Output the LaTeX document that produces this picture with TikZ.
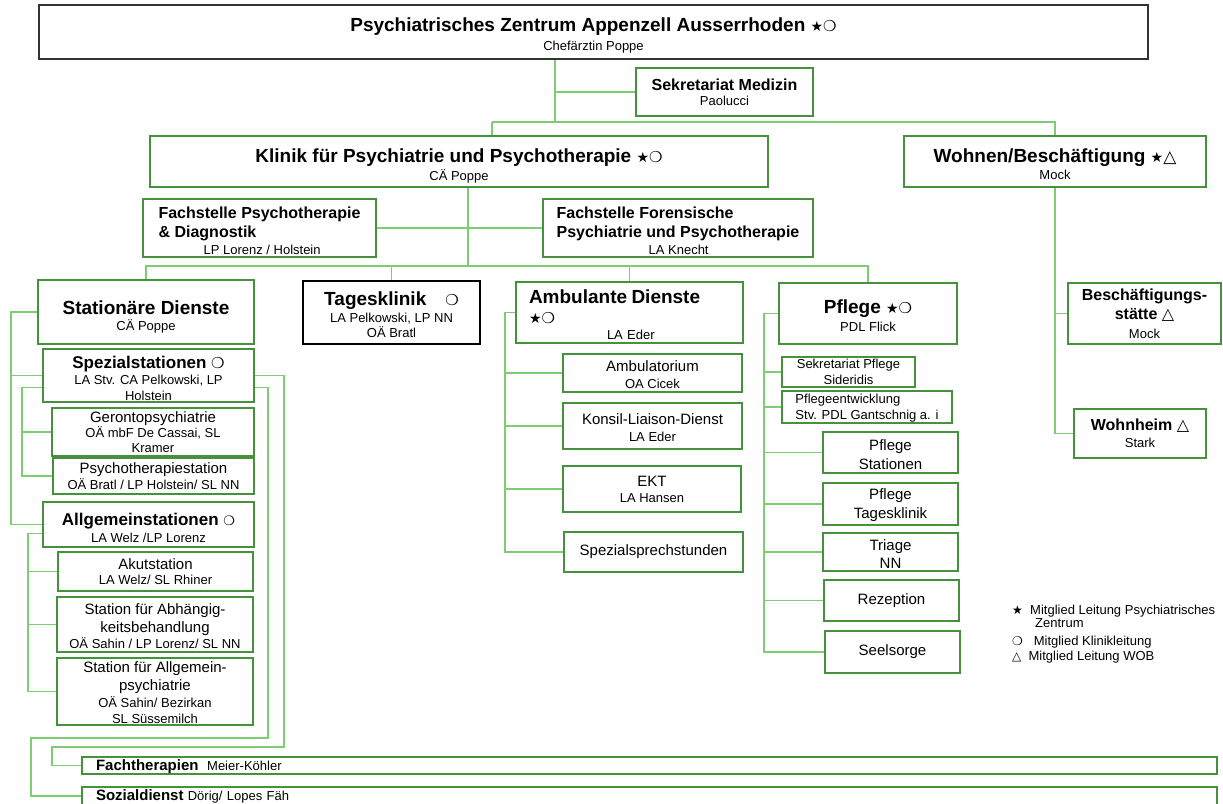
\documentclass[tikz,border=0pt]{standalone}
\usepackage{fontspec}
\setmainfont{Liberation Sans}
\newfontfamily\symf{DejaVu Sans}
\definecolor{boxgreen}{RGB}{70,145,60}
\definecolor{linegreen}{RGB}{125,205,115}
\newcommand\ftitle{\fontsize{19}{21}\selectfont\bfseries}
\newcommand\fsubh{\fontsize{17}{19}\selectfont\bfseries}
\newcommand\fhead{\fontsize{16}{18}\selectfont\bfseries}
\newcommand\funit{\fontsize{15}{17}\selectfont}
\newcommand\fname{\fontsize{13}{15}\selectfont}
\newcommand\sy[2]{{\symf\fontsize{#1}{#1}\selectfont #2}}
\newcommand\lift[1]{\rule{0pt}{#1pt}}

\begin{document}
\begin{tikzpicture}[x=1pt,y=-1pt,
  box/.style={draw=boxgreen, line width=2pt, fill=white, inner sep=0pt, align=center, font=\fname},
  blackbox/.style={box, draw=black},
  conn/.style={draw=linegreen, line width=1.3pt}]
\useasboundingbox (0,0) rectangle (1223,803);

\node[box, draw=black!80, line width=1.2pt, minimum width=1109pt, minimum height=54pt] (pza) at (593.5,32)
  {\lift{20}{\ftitle Psychiatrisches Zentrum Appenzell Ausserrhoden \sy{14}{★}\sy{15}{❍}}\\[4pt] Chefärztin Poppe};
\node[box, minimum width=177pt, minimum height=48pt] (sekmed) at (724.5,92)
  {{\fhead Sekretariat Medizin}\\ Paolucci};
\node[box, minimum width=618pt, minimum height=51pt] (klinik) at (459,161.5)
  {\lift{22}{\ftitle Klinik für Psychiatrie und Psychotherapie \sy{14}{★}\sy{15}{❍}}\\[3pt] CÄ Poppe};
\node[box, minimum width=302pt, minimum height=51pt] (wohnen) at (1055,161.5)
  {\lift{19}{\ftitle Wohnen/Beschäftigung \sy{14}{★}\sy{17}{△}}\\[2pt] Mock};

\node[box, align=left, minimum width=233pt, minimum height=58pt] (fpsy) at (259.5,228)
  {\lift{18}{\fhead Fachstelle Psychotherapie}\\[4pt] {\fhead \& Diagnostik}\\[2pt] \hspace*{45pt}LP Lorenz / Holstein};
\node[box, align=left, minimum width=270pt, minimum height=58pt] (fforen) at (678,228)
  {\lift{18}{\fhead Fachstelle Forensische}\\[4pt] {\fhead Psychiatrie und Psychotherapie}\\[2pt] \hspace*{92pt}LA Knecht};

\node[box, minimum width=216pt, minimum height=64pt] (stat) at (146,312)
  {\lift{24}{\ftitle Stationäre Dienste}\\[1pt] CÄ Poppe};
\node[blackbox, minimum width=177pt, minimum height=63pt] (tages) at (391.5,312.5)
  {\lift{18}{\ftitle Tagesklinik\quad\sy{15}{❍}}\\[2pt] LA Pelkowski, LP NN\\ OÄ Bratl};
\node[box, align=left, text width=201pt, inner xsep=13pt, minimum width=227pt, minimum height=61pt] (amb) at (629.5,312.5)
  {\lift{18}{\ftitle Ambulante Dienste}\\[5pt] \sy{14}{★}\sy{15}{❍}\\[1pt] \hspace*{78pt}LA Eder};
\node[box, minimum width=178pt, minimum height=61pt] (pflege) at (868,313.5)
  {\lift{18}{\ftitle Pflege \sy{14}{★}\sy{15}{❍}}\\[3pt] PDL Flick};
\node[box, minimum width=153pt, minimum height=61pt] (besch) at (1144.5,313.5)
  {{\fhead Beschäftigungs-}\\[4pt] {\fhead stätte \sy{16}{△}}\\[4pt] Mock};
\node[box, minimum width=132pt, minimum height=49pt] (wohnheim) at (1140,433.5)
  {{\fhead Wohnheim \sy{16}{△}}\\[2pt] Stark};

\node[box, minimum width=211pt, minimum height=53pt] (spez) at (148.5,375.5)
  {\lift{18}{\fsubh Spezialstationen \sy{15}{❍}}\\[1pt] LA Stv. CA Pelkowski, LP\\[1pt] Holstein};
\node[box, minimum width=202pt, minimum height=48pt] (geronto) at (153,432)
  {{\funit Gerontopsychiatrie}\\ OÄ mbF De Cassai, SL\\ Kramer};
\node[box, minimum width=201pt, minimum height=36pt] (psyst) at (153.5,476)
  {{\funit Psychotherapiestation}\\[1pt] OÄ Bratl / LP Holstein/ SL NN};
\node[box, minimum width=211pt, minimum height=45pt] (allg) at (148.5,524.5)
  {\lift{19}{\fsubh Allgemeinstationen \sy{13}{❍}}\\[2pt] LA Welz /LP Lorenz};
\node[box, minimum width=195pt, minimum height=39pt] (akut) at (155.5,571.5)
  {{\funit Akutstation}\\ LA Welz/ SL Rhiner};
\node[box, minimum width=196pt, minimum height=55pt] (abh) at (155,624.5)
  {\lift{15}{\funit Station für Abhängig-}\\[3pt] {\funit keitsbehandlung}\\[1pt] OÄ Sahin / LP Lorenz/ SL NN};
\node[box, minimum width=196pt, minimum height=67pt] (allgpsy) at (155,691.5)
  {\lift{14}{\funit Station für Allgemein-}\\[3pt] {\funit psychiatrie}\\[2pt] OÄ Sahin/ Bezirkan\\[1pt] SL Süssemilch};

\node[box, minimum width=179pt, minimum height=38pt] (ambul) at (652.5,373)
  {\lift{15}{\funit Ambulatorium}\\[2pt] OA Cicek};
\node[box, minimum width=179pt, minimum height=46pt] (konsil) at (652.5,426)
  {\lift{15}{\funit Konsil-Liaison-Dienst}\\[2pt] LA Eder};
\node[box, minimum width=178pt, minimum height=46pt] (ekt) at (652,489)
  {{\funit EKT}\\[1pt] LA Hansen};
\node[box, font=\funit, minimum width=179pt, minimum height=40pt] (spsp) at (653.5,552)
  {Spezialsprechstunden};

\node[box, minimum width=133pt, minimum height=30pt] (sekpf) at (848.5,372)
  {Sekretariat Pflege\\[1pt] Sideridis};
\node[box, align=left, minimum width=170pt, minimum height=32pt] (pfent) at (867,407)
  {\lift{12}Pflegeentwicklung\\[1pt] Stv. PDL Gantschnig a. i};
\node[box, font=\funit, minimum width=135pt, minimum height=41pt] (pfstat) at (890.5,452.5)
  {\lift{15}Pflege\\[2pt] Stationen};
\node[box, font=\funit, minimum width=135pt, minimum height=42pt] (pftag) at (890.5,504)
  {\lift{14}Pflege\\[2pt] Tagesklinik};
\node[box, font=\funit, minimum width=135pt, minimum height=38pt] (triage) at (890.5,552)
  {\lift{14}Triage\\[1pt] NN};
\node[box, font=\funit, minimum width=135pt, minimum height=41pt] (rezep) at (891.5,600.5)
  {Rezeption};
\node[box, font=\funit, minimum width=135pt, minimum height=42pt] (seel) at (892.5,652)
  {Seelsorge};

\node[box, align=left, text width=1107pt, inner xsep=14pt, text depth=0pt, minimum width=1135pt, minimum height=17pt] (fachth) at (649.5,765.5)
  {{\funit\bfseries Fachtherapien}\ \ Meier-Köhler};
\node[box, align=left, text width=1107pt, inner xsep=14pt, minimum width=1135pt, minimum height=18pt] (sozial) at (649.5,796)
  {{\funit\bfseries Sozialdienst} Dörig/ Lopes Fäh};

\node[anchor=north west, align=left, font=\fname, inner sep=0pt] (legend) at (1012,605)
  {\sy{12}{★}\ \ Mitglied Leitung Psychiatrisches\\[-2pt] \hspace*{23pt}Zentrum\\[3pt]
   \sy{12}{❍}\ \ \ Mitglied Klinikleitung\\ \sy{12}{△}\ \ Mitglied Leitung WOB};

\coordinate (t1) at (555,122);
\coordinate (t2) at (492,122);
\draw[conn] (pza.south -| t1) -- (t1);
\draw[conn] (pza.south -| t1) |- (sekmed.west);
\draw[conn] (t2) -- (wohnen.north |- t2) -- (wohnen.north);
\draw[conn] (t2) -- (klinik.north -| t2);

\coordinate (k1) at (468,266);
\draw[conn] (klinik.south -| k1) -- (k1);
\draw[conn] (fpsy.east) -- (fforen.west);
\draw[conn] (stat.north) -- (stat.north |- k1) -- (pflege.north |- k1) -- (pflege.north);
\draw[conn] (tages.north |- k1) -- (tages.north);
\draw[conn] (amb.north |- k1) -- (amb.north);

\draw[conn] (wohnen.south) |- (wohnheim.west);
\draw[conn] (besch.west -| wohnen.south) -- (besch.west);

\draw[conn] (stat.west) -- ++(-26,0) coordinate (s1) |- (allg.west);
\draw[conn] (s1 |- spez.west) -- (spez.west);
\draw[conn] ([yshift=-12pt]spez.west) -- ++(-20,0) coordinate (s2) |- (psyst.west);
\draw[conn] (s2 |- geronto.west) -- (geronto.west);
\draw[conn] ([yshift=-9pt]allg.west) -- ++(-14,0) coordinate (s3) |- (allgpsy.west);
\draw[conn] (s3 |- akut.west) -- (akut.west);
\draw[conn] (s3 |- abh.west) -- (abh.west);

\draw[conn] (spez.east) -- ++(29,0) -- ++(0,371.5) -| ([xshift=-29pt]fachth.west) -- (fachth.west);
\draw[conn] ([yshift=-12pt]spez.east) -- ++(13,0) -- ++(0,350.5) -| ([xshift=-50pt]sozial.west) -- (sozial.west);

\draw[conn] (amb.west) -- ++(-10,0) coordinate (s4) |- (spsp.west);
\draw[conn] (s4 |- ambul.west) -- (ambul.west);
\draw[conn] (s4 |- konsil.west) -- (konsil.west);
\draw[conn] (s4 |- ekt.west) -- (ekt.west);

\draw[conn] (pflege.west) -- ++(-14,0) coordinate (s5) |- (seel.west);
\draw[conn] (s5 |- sekpf.west) -- (sekpf.west);
\draw[conn] (s5 |- pfent.west) -- (pfent.west);
\draw[conn] (s5 |- pfstat.west) -- (pfstat.west);
\draw[conn] (s5 |- pftag.west) -- (pftag.west);
\draw[conn] (s5 |- triage.west) -- (triage.west);
\draw[conn] (s5 |- rezep.west) -- (rezep.west);
\end{tikzpicture}
\end{document}
